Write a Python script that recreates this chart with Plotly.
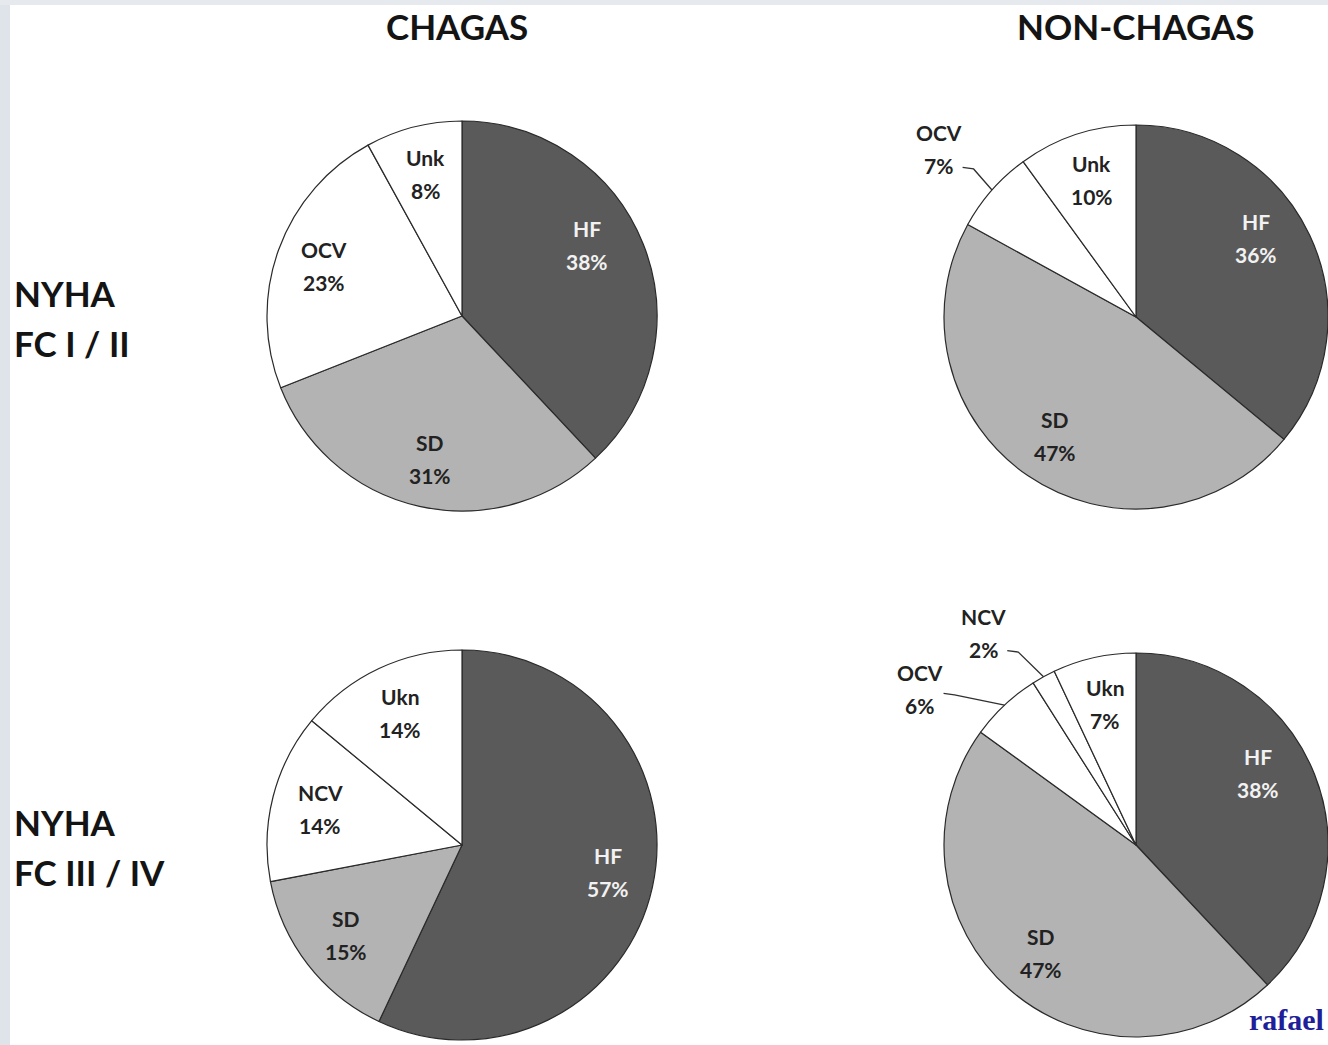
import math
import plotly.graph_objects as go

W, H = 1328, 1045

# Causes of death (%) by NYHA functional class
chagas_fc12_labels = ["HF", "SD", "OCV", "Unk"]
chagas_fc12_values = [38, 31, 23, 8]

nonchagas_fc12_labels = ["HF", "SD", "OCV", "Unk"]
nonchagas_fc12_values = [36, 47, 7, 10]

chagas_fc34_labels = ["HF", "SD", "NCV", "Ukn"]
chagas_fc34_values = [57, 15, 14, 14]

nonchagas_fc34_labels = ["HF", "SD", "OCV", "NCV", "Ukn"]
nonchagas_fc34_values = [38, 47, 6, 2, 7]

column_titles = ["CHAGAS", "NON-CHAGAS"]
row_titles = [["NYHA", "FC I / II"], ["NYHA", "FC III / IV"]]

# ---- styling / layout -------------------------------------------------------
FILL = {"HF": "#5a5a5a", "SD": "#b3b3b3"}
OTHER_FILL = "#ffffff"
TEXT_DARK = "#222222"
TEXT_LIGHT = "#f2f2f2"
LABEL_FONT = "Lato"
LABEL_SIZE = 21

panels = [
    dict(labels=chagas_fc12_labels, values=chagas_fc12_values,
         cx=462, cy=316, r=195, outside={}, nudge={"HF": (-8, 0.74)}),
    dict(labels=nonchagas_fc12_labels, values=nonchagas_fc12_values,
         cx=1136, cy=317, r=192, outside={"OCV": (-1, 1.35)}, nudge={"HF": (-8, 0.75)}),
    dict(labels=chagas_fc34_labels, values=chagas_fc34_values,
         cx=462, cy=845, r=195, outside={}, nudge={"HF": (-2, 0.76)}),
    dict(labels=nonchagas_fc34_labels, values=nonchagas_fc34_values,
         cx=1136, cy=845, r=192, outside={"OCV": (-11, 1.39), "NCV": (-7, 1.36)},
         nudge={"HF": (-9, 0.74)}),
]


def px(x):
    return x / W


def py(y):
    return 1 - y / H


def polar(cx, cy, radius, deg):
    a = math.radians(deg)
    return cx + radius * math.sin(a), cy - radius * math.cos(a)


fig = go.Figure()
annotations = []
shapes = []

# faint slide backdrop along the left and top edges
shapes.append(dict(type="rect", xref="paper", yref="paper", x0=0, x1=px(10), y0=0, y1=1,
                   fillcolor="#dfe4ea", line=dict(width=0), layer="below"))
shapes.append(dict(type="rect", xref="paper", yref="paper", x0=0, x1=1, y0=py(5), y1=1,
                   fillcolor="#e6e9ee", line=dict(width=0), layer="below"))

for p in panels:
    cx, cy, r = p["cx"], p["cy"], p["r"]
    colors = [FILL.get(lab, OTHER_FILL) for lab in p["labels"]]
    fig.add_trace(go.Pie(
        labels=p["labels"], values=p["values"],
        sort=False, direction="clockwise", rotation=0,
        marker=dict(colors=colors, line=dict(color="#2a2a2a", width=1.2)),
        textinfo="none", hoverinfo="label+percent", showlegend=False,
        domain=dict(x=[px(cx - r), px(cx + r)], y=[py(cy + r), py(cy - r)]),
    ))

    total = sum(p["values"])
    cum = 0
    for lab, val in zip(p["labels"], p["values"]):
        mid = (cum + val / 2) / total * 360
        cum += val
        color = TEXT_LIGHT if lab == "HF" else TEXT_DARK
        if lab in p["outside"]:
            shift, k = p["outside"][lab]
            lx, ly = polar(cx, cy, k * r, mid + shift)
            ax_, ay_ = polar(cx, cy, r, mid)
            # leader line: from label edge, short horizontal run, then to the arc
            dx, dy = ax_ - lx, ay_ - ly
            t = min(24 / abs(dx) if dx else 9, 34 / abs(dy) if dy else 9)
            sx, sy = lx + dx * t, ly + dy * t
            ex, ey = sx + 11, sy + 1.5
            shapes.append(dict(
                type="path", xref="paper", yref="paper",
                path=f"M {px(sx)} {py(sy)} L {px(ex)} {py(ey)} L {px(ax_)} {py(ay_)}",
                line=dict(color="#303030", width=1.3),
            ))
        else:
            shift, k = p["nudge"].get(lab, (0, 0.75))
            lx, ly = polar(cx, cy, k * r, mid + shift)
        for txt, ys in ((lab, 16.5), (f"{val}%", -16.5)):
            annotations.append(dict(
                x=px(lx), y=py(ly), xref="paper", yref="paper",
                text=f"<b>{txt}</b>", showarrow=False, yshift=ys,
                xanchor="center", yanchor="middle",
                font=dict(family=LABEL_FONT, size=LABEL_SIZE, color=color),
            ))

# column headers
for title, x in zip(column_titles, [457, 1136]):
    annotations.append(dict(
        x=px(x), y=py(26), xref="paper", yref="paper", text=f"<b>{title}</b>",
        showarrow=False, xanchor="center", yanchor="middle",
        font=dict(family="Lato", size=35, color="#141414"),
    ))

# row headers
for lines, y0 in zip(row_titles, [293, 822]):
    for i, line in enumerate(lines):
        annotations.append(dict(
            x=px(12), y=py(y0 + 50 * i), xref="paper", yref="paper",
            text=f"<b>{line}</b>", showarrow=False, xanchor="left", yanchor="middle",
            font=dict(family="Lato", size=35, color="#141414"),
        ))

# signature
annotations.append(dict(
    x=px(1326), y=py(1019), xref="paper", yref="paper", text="<b>rafael</b>",
    showarrow=False, xanchor="right", yanchor="middle",
    font=dict(family="Liberation Serif", size=30, color="#1f1f99"),
))

fig.update_layout(
    width=W, height=H,
    margin=dict(l=0, r=0, t=0, b=0),
    paper_bgcolor="white", plot_bgcolor="white",
    annotations=annotations, shapes=shapes,
)

fig.write_html("out.html")
